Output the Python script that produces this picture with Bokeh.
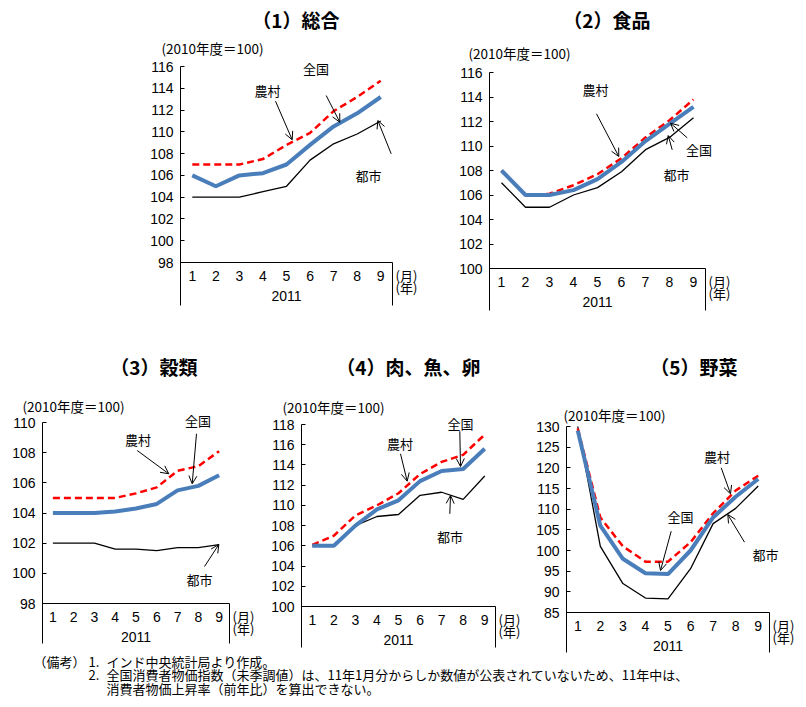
from bokeh.plotting import figure
from bokeh.models import Range1d, FixedTicker, Arrow, OpenHead, LinearAxis
from bokeh.embed import file_html
from bokeh.resources import INLINE
from bokeh.core.properties import value

# ---------------- data ----------------
months = [1, 2, 3, 4, 5, 6, 7, 8, 9]
month_labels = ["1", "2", "3", "4", "5", "6", "7", "8", "9"]
year_label = "2011"
unit_label = "(2010年度＝100)"
month_unit = "(月)"
year_unit = "(年)"
name_national = "全国"
name_rural = "農村"
name_urban = "都市"

p1_title = "（1）総合"
p1_ticks = [98, 100, 102, 104, 106, 108, 110, 112, 114, 116]
p1_national = [106.0, 105.0, 106.0, 106.2, 107.0, 108.8, 110.5, 111.7, 113.2]
p1_rural = [107.0, 107.0, 107.0, 107.5, 108.8, 109.9, 111.9, 113.2, 114.7]
p1_urban = [104.0, 104.0, 104.0, 104.5, 105.0, 107.4, 108.9, 109.8, 111.0]

p2_title = "（2）食品"
p2_ticks = [100, 102, 104, 106, 108, 110, 112, 114, 116]
p2_national = [108.0, 106.0, 106.0, 106.4, 107.3, 108.7, 110.4, 111.8, 113.2]
p2_rural = [108.0, 106.0, 106.1, 106.8, 107.7, 109.0, 110.7, 112.1, 113.8]
p2_urban = [107.0, 105.0, 105.0, 106.0, 106.6, 107.9, 109.7, 110.7, 112.3]

p3_title = "（3）穀類"
p3_ticks = [98, 100, 102, 104, 106, 108, 110]
p3_national = [104.0, 104.0, 104.0, 104.1, 104.3, 104.6, 105.5, 105.8, 106.5]
p3_rural = [105.0, 105.0, 105.0, 105.0, 105.3, 105.7, 106.8, 107.1, 108.1]
p3_urban = [102.0, 102.0, 102.0, 101.6, 101.6, 101.5, 101.7, 101.7, 101.9]

p4_title = "（4）肉、魚、卵"
p4_ticks = [100, 102, 104, 106, 108, 110, 112, 114, 116, 118]
p4_national = [106.0, 106.0, 108.0, 109.6, 110.5, 112.4, 113.4, 113.6, 115.6]
p4_rural = [106.1, 107.0, 109.0, 110.0, 111.2, 113.1, 114.3, 115.0, 117.0]
p4_urban = [106.0, 106.0, 108.0, 108.9, 109.1, 111.0, 111.3, 110.6, 112.9]

p5_title = "（5）野菜"
p5_ticks = [85, 90, 95, 100, 105, 110, 115, 120, 125, 130]
p5_national = [129.0, 106.0, 98.0, 94.5, 94.3, 100.0, 108.0, 113.0, 117.3]
p5_rural = [129.5, 108.0, 101.0, 97.3, 97.3, 102.0, 109.0, 114.5, 118.1]
p5_urban = [130.0, 101.0, 92.0, 88.5, 88.3, 95.6, 106.5, 110.2, 115.6]

note_heads = ["（備考）", "", ""]
note_nums = ["1.", "2.", ""]
note_texts = [
    "インド中央統計局より作成。",
    "全国消費者物価指数（未季調値）は、11年1月分からしか数値が公表されていないため、11年中は、",
    "消費者物価上昇率（前年比）を算出できない。",
]

# ---------------- styles / layout ----------------
BLUE = "#4A7EBB"
RED = "#FF0000"
JP = "Noto Sans CJK JP"
NUM = "Liberation Sans"
CW, CH = 806, 707

p = figure(width=CW, height=CH, x_range=Range1d(0, CW), y_range=Range1d(CH, 0),
           min_border=0, x_axis_location=None, y_axis_location=None,
           output_backend="svg", toolbar_location=None)
p.title.visible = False
p.grid.visible = False
p.outline_line_color = None
p.background_fill_color = "white"
p.border_fill_color = "white"


def jp_text(xs, ys, texts, size="13px", align="center", style="normal"):
    p.text(x=xs, y=ys, text=texts, text_font=value(JP), text_font_size=size,
           text_font_style=style, text_align=align, text_baseline="middle",
           text_color="black")


def make_panel(key, title, ticks, national, rural, urban, geom, notes, title_pos, unit_pos):
    fx, fy, W, H = geom["frame"]
    box_px = geom["box_bottom"]
    ymin, ymax = ticks[0], ticks[-1]
    xpp = 9.0 / W
    upp = (ymax - ymin) / H
    xr, yr = "x" + key, "y" + key
    p.extra_x_ranges[xr] = Range1d(0.5 - fx * xpp, 0.5 + (CW - fx) * xpp)
    p.extra_y_ranges[yr] = Range1d(ymax - (CH - fy) * upp, ymax + fy * upp)
    ybot = ymax - (box_px - fy) * upp

    ya = LinearAxis(x_range_name=xr, y_range_name=yr, fixed_location=0.5,
                    bounds=(ybot, ymax), ticker=FixedTicker(ticks=ticks))
    ya.major_tick_in = 4
    ya.major_tick_out = 0
    ya.minor_tick_in = 0
    ya.minor_tick_out = 0
    ya.major_label_standoff = 7
    ya.major_label_text_font = NUM
    ya.major_label_text_font_size = "14px"
    ya.major_label_text_color = "black"
    ya.axis_line_color = "black"
    ya.major_tick_line_color = "black"
    p.add_layout(ya, "left")

    xa = LinearAxis(x_range_name=xr, y_range_name=yr, fixed_location=ymin,
                    bounds=(0.5, 9.5), ticker=FixedTicker(ticks=months))
    xa.major_label_overrides = {m: s for m, s in zip(months, month_labels)}
    xa.major_tick_in = 0
    xa.major_tick_out = 0
    xa.minor_tick_in = 0
    xa.minor_tick_out = 0
    xa.major_label_standoff = 8
    xa.major_label_text_font = NUM
    xa.major_label_text_font_size = "14px"
    xa.major_label_text_color = "black"
    xa.axis_label = year_label
    xa.axis_label_standoff = 7
    xa.axis_label_text_font = NUM
    xa.axis_label_text_font_size = "14px"
    xa.axis_label_text_font_style = "normal"
    xa.axis_label_text_color = "black"
    xa.axis_line_color = "black"
    p.add_layout(xa, "below")

    # right bracket line below the category axis
    p.segment(x0=[9.5], y0=[ymin], x1=[9.5], y1=[ybot], line_color="black",
              line_width=1, x_range_name=xr, y_range_name=yr)

    # series
    p.line(months, urban, line_color="black", line_width=1.3,
           x_range_name=xr, y_range_name=yr)
    p.line(months, rural, line_color=RED, line_width=2.5, line_dash="7 4",
           x_range_name=xr, y_range_name=yr)
    p.line(months, national, line_color=BLUE, line_width=4,
           x_range_name=xr, y_range_name=yr)

    # units, titles (page-pixel positions)
    jp_text([fx + W + 3, fx + W + 3], [fy + H + 13, fy + H + 25],
            [month_unit, year_unit], align="left")
    jp_text([unit_pos[0]], [unit_pos[1]], [unit_label], size="13.5px", align="left")
    jp_text([title_pos[0]], [title_pos[1]], [title], size="19px", align="right",
            style="bold")

    # callouts
    jp_text([n[1] for n in notes], [n[2] for n in notes], [n[0] for n in notes])
    for name, tx, ty, sx, sy, ex, ey in notes:
        p.add_layout(Arrow(end=OpenHead(size=8, line_width=1, line_color="black"),
                           x_start=sx, y_start=sy, x_end=ex, y_end=ey,
                           line_color="black", line_width=1))


make_panel("1", p1_title, p1_ticks, p1_national, p1_rural, p1_urban,
           dict(frame=(180, 66, 212, 196), box_bottom=305),
           [(name_national, 315.5, 67.5, 325.7, 95, 339.3, 121.7),
            (name_rural, 267, 90, 275, 100.7, 291.7, 139.3),
            (name_urban, 368, 175, 390.7, 153.3, 377.3, 120)],
           (339, 19), (161, 47.5))

make_panel("2", p2_title, p2_ticks, p2_national, p2_rural, p2_urban,
           dict(frame=(489, 72, 216, 196), box_bottom=310),
           [(name_rural, 595, 88.5, 596, 113.3, 618.3, 156),
            (name_national, 698.5, 149, 686.7, 137.3, 670, 122.7),
            (name_urban, 676, 174, 671.7, 149.3, 667.7, 135)],
           (650, 19), (468, 52.5))

make_panel("3", p3_title, p3_ticks, p3_national, p3_rural, p3_urban,
           dict(frame=(42, 422, 187, 181), box_bottom=643),
           [(name_national, 197.5, 419.5, 196, 433.3, 191.7, 483.3),
            (name_rural, 137.5, 439, 136.7, 450, 168.3, 473.3),
            (name_urban, 199, 579, 204, 566, 218.3, 544)],
           (197, 366), (22, 405.5))

make_panel("4", p4_title, p4_ticks, p4_national, p4_rural, p4_urban,
           dict(frame=(301, 424, 194, 182), box_bottom=647),
           [(name_national, 460, 422.5, 459.3, 430.7, 460, 466),
            (name_rural, 399.5, 442.5, 400, 453.3, 406.7, 480.7),
            (name_urban, 449.5, 536, 449.3, 513.3, 450, 495)],
           (480, 366), (282, 406.5))

make_panel("5", p5_title, p5_ticks, p5_national, p5_rural, p5_urban,
           dict(frame=(566, 426, 203, 186), box_bottom=652),
           [(name_rural, 716.5, 456, 720.7, 467.3, 730, 493.3),
            (name_national, 680, 516, 670.7, 530.7, 660, 570),
            (name_urban, 765, 554, 744, 541.7, 727.3, 514)],
           (737, 366), (563, 414))

# footnote
line_y = [661, 674, 688]
heads = [(h, y) for h, y in zip(note_heads, line_y) if h]
nums = [(n, y) for n, y in zip(note_nums, line_y) if n]
jp_text([33] * len(heads), [h[1] for h in heads], [h[0] for h in heads], align="left")
jp_text([88] * len(nums), [n[1] for n in nums], [n[0] for n in nums], align="left")
jp_text([106] * len(note_texts), line_y, note_texts, align="left")

open("out.html", "w").write(file_html(p, INLINE))
